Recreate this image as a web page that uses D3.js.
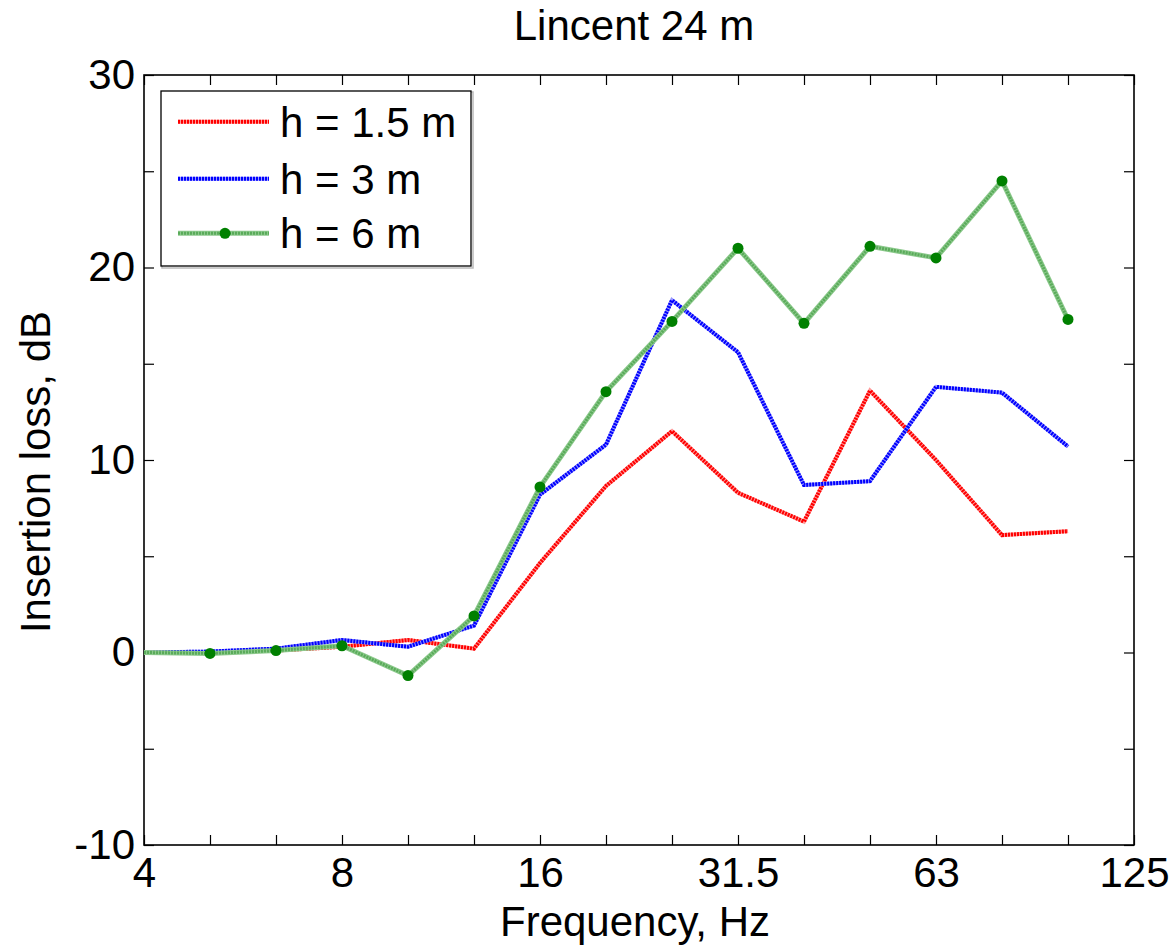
<!DOCTYPE html>
<html>
<head>
<meta charset="utf-8">
<script src="https://cdn.jsdelivr.net/npm/d3@7"></script>
<style>
  html, body { margin: 0; padding: 0; background: #fff; }
  svg { display: block; }
  text { font-family: "Liberation Sans", Arial, sans-serif; fill: #000; }
</style>
</head>
<body>
<svg id="chart" width="1171" height="951"></svg>
<script>
// ---- data ----
const bands = ["4","5","6.3","8","10","12.5","16","20","25","31.5","40","50","63","80","100","125"];
const freqs = ["4","5","6.3","8","10","12.5","16","20","25","31.5","40","50","63","80","100"];
const h15 = [0, 0, 0.1, 0.3, 0.65, 0.2, 4.65, 8.65, 11.5, 8.3, 6.8, 13.6, 10.0, 6.1, 6.3];
const h3  = [0, 0.05, 0.2, 0.65, 0.3, 1.4, 8.2, 10.8, 18.3, 15.6, 8.7, 8.9, 13.8, 13.5, 10.7];
const h6  = [0, -0.05, 0.1, 0.35, -1.2, 1.9, 8.6, 13.55, 17.2, 21.0, 17.1, 21.1, 20.5, 24.5, 17.3];
const xTickLabels = ["4","8","16","31.5","63","125"];
const yTicks = [-10,-5,0,5,10,15,20,25,30];
const yTickLabels = [-10,0,10,20,30];
const seriesNames = ["h = 1.5 m", "h = 3 m", "h = 6 m"];
const title = "Lincent 24 m";
const xTitle = "Frequency, Hz";
const yTitle = "Insertion loss, dB";

// ---- layout ----
const L = 144, R = 1134, T = 75, B = 845;
const svg = d3.select("#chart");
const x = d3.scalePoint().domain(bands).range([L, R]);
const y = d3.scaleLinear().domain([-10, 30]).range([B, T]);
const FS = 42;

// axes
const fmtY = d => yTickLabels.includes(d) ? String(d) : "";
const fmtX = d => xTickLabels.includes(d) ? d : "";

function styleAxis(g) {
  g.select(".domain").remove();
  g.selectAll(".tick line").attr("stroke", "#000").attr("stroke-width", 1.2);
  g.selectAll(".tick text").style("font-size", FS + "px").attr("fill", "#000");
}

svg.append("g").attr("transform", `translate(${L},0)`)
  .call(d3.axisLeft(y).tickValues(yTicks).tickFormat(fmtY).tickSizeInner(-10).tickSizeOuter(0).tickPadding(9))
  .call(styleAxis);
svg.append("g").attr("transform", `translate(${R},0)`)
  .call(d3.axisRight(y).tickValues(yTicks).tickFormat("").tickSizeInner(-10).tickSizeOuter(0))
  .call(styleAxis);
svg.append("g").attr("transform", `translate(0,${B})`)
  .call(d3.axisBottom(x).tickFormat(fmtX).tickSizeInner(-10).tickSizeOuter(0).tickPadding(12))
  .call(styleAxis);
svg.append("g").attr("transform", `translate(0,${T})`)
  .call(d3.axisTop(x).tickFormat("").tickSizeInner(-10).tickSizeOuter(0))
  .call(styleAxis);

// frame
svg.append("rect").attr("x", L).attr("y", T).attr("width", R - L).attr("height", B - T)
  .attr("fill", "none").attr("stroke", "#000").attr("stroke-width", 1.6);

// lines
const line = d3.line().x((d, i) => x(freqs[i])).y(d => y(d));

function dottedLine(data, base, light) {
  svg.append("path").datum(data).attr("d", line).attr("fill", "none")
    .attr("stroke", light).attr("stroke-width", 4).attr("stroke-linejoin", "miter");
  svg.append("path").datum(data).attr("d", line).attr("fill", "none")
    .attr("stroke", base).attr("stroke-width", 4).attr("stroke-dasharray", "2,1").attr("stroke-linejoin", "miter");
}
dottedLine(h15, "#ff0000", "#ff9a9a");
dottedLine(h3, "#0000ff", "#9a9aff");

// green
svg.append("path").datum(h6).attr("d", line).attr("fill", "none")
  .attr("stroke", "#8cc98c").attr("stroke-width", 5);
svg.append("path").datum(h6).attr("d", line).attr("fill", "none")
  .attr("stroke", "#5aab5a").attr("stroke-width", 3).attr("stroke-dasharray", "2,1");
svg.append("g").selectAll("circle").data(h6.slice(1)).join("circle")
  .attr("cx", (d, i) => x(freqs[i + 1])).attr("cy", d => y(d)).attr("r", 5.5)
  .attr("fill", "#008000");

// titles
svg.append("text").attr("x", 634).attr("y", 40).attr("text-anchor", "middle")
  .style("font-size", FS + "px").text(title);
svg.append("text").attr("x", 635).attr("y", 936).attr("text-anchor", "middle")
  .style("font-size", FS + "px").text(xTitle);
svg.append("text").attr("transform", "translate(50,472) rotate(-90)").attr("text-anchor", "middle")
  .style("font-size", FS + "px").text(yTitle);

// legend
const lg = svg.append("g");
lg.append("rect").attr("x", 162).attr("y", 92).attr("width", 311).attr("height", 176)
  .attr("fill", "none").attr("stroke", "#bbb").attr("stroke-width", 1.5);
lg.append("rect").attr("x", 161).attr("y", 91).attr("width", 310).attr("height", 175)
  .attr("fill", "#fff").attr("stroke", "#000").attr("stroke-width", 1.3);
const legY = [121.7, 178.7, 233.3];
const legStyles = [
  {base: "#ff0000", light: "#ff9a9a", w: 4, dash: "2,1"},
  {base: "#0000ff", light: "#9a9aff", w: 4, dash: "2,1"},
  {base: "#5aab5a", light: "#8cc98c", w: 5, dash: "2,1"}
];
seriesNames.forEach((name, i) => {
  const s = legStyles[i];
  lg.append("line").attr("x1", 178).attr("x2", 269).attr("y1", legY[i]).attr("y2", legY[i])
    .attr("stroke", s.light).attr("stroke-width", s.w);
  lg.append("line").attr("x1", 178).attr("x2", 269).attr("y1", legY[i]).attr("y2", legY[i])
    .attr("stroke", s.base).attr("stroke-width", i === 2 ? 3 : 4).attr("stroke-dasharray", s.dash);
  if (i === 2) {
    lg.append("circle").attr("cx", 225).attr("cy", legY[i]).attr("r", 5.5).attr("fill", "#008000");
  }
  lg.append("text").attr("x", 280).attr("y", legY[i] + 15).style("font-size", FS + "px").text(name);
});
</script>
</body>
</html>
